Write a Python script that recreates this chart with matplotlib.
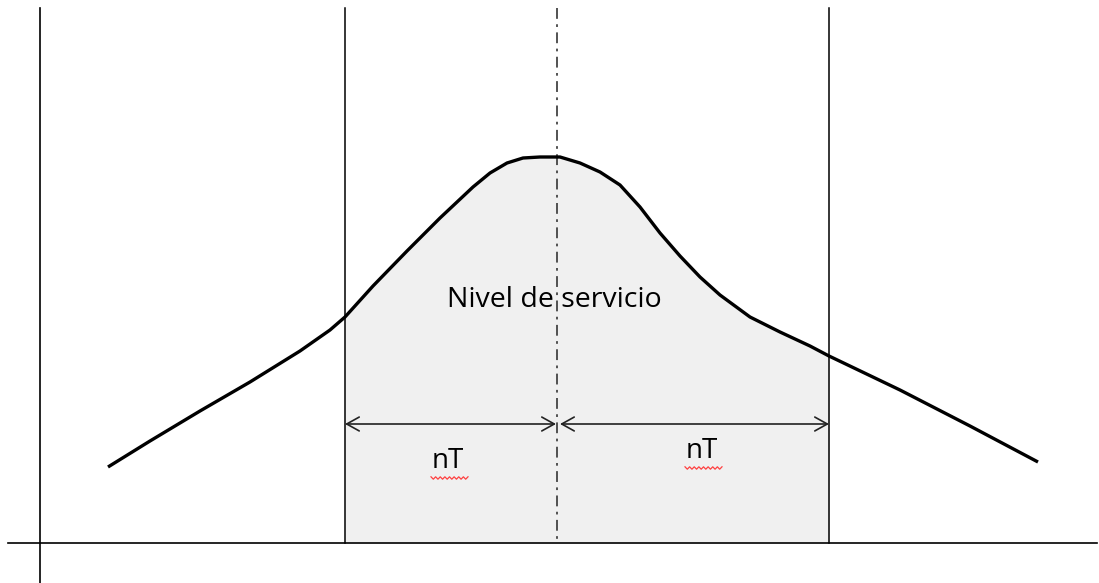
import numpy as np
import matplotlib
matplotlib.use('Agg')
import matplotlib.pyplot as plt

# curve (pixel coords, y grows downward)
curve_x = [108, 150, 200, 250, 300, 330, 345, 373, 407, 440, 473, 490, 507, 523,
           540, 560, 580, 600, 620, 640, 660, 680, 700, 720, 750, 780, 810, 829,
           900, 970, 1038]
curve_y = [467, 441, 411, 382, 351, 330, 317, 286, 251, 218, 187, 173, 163, 158,
           157, 157, 163, 172, 185, 207, 233, 256, 277, 295, 317, 332, 346, 356,
           390, 426, 462]

x_left, x_mid, x_right = 345, 557, 829
base_y = 543
arrow_y = 424
label_main = 'Nivel de servicio'
label_nt = ['nT', 'nT']
nt_pos = [(448, 461), (702, 451)]

fig = plt.figure(figsize=(10.99, 5.83), dpi=100)
ax = fig.add_axes([0, 0, 1, 1])
ax.set_xlim(0, 1099)
ax.set_ylim(583, 0)
ax.axis('off')

cx = np.array(curve_x, dtype=float)
cy = np.array(curve_y, dtype=float)

# zona sombreada (nivel de servicio)
mask = (cx >= x_left) & (cx <= x_right)
ax.fill_between(cx[mask], cy[mask], base_y, color='#f0f0f0', lw=0, zorder=1)

# ejes y lineas verticales
ax.plot([40, 40], [8, 583], color='black', lw=1.2, zorder=3)
ax.plot([8, 1097], [base_y, base_y], color='black', lw=1.2, zorder=3)
ax.plot([x_left, x_left], [8, base_y], color='black', lw=1.1, zorder=3)
ax.plot([x_right, x_right], [8, base_y], color='black', lw=1.1, zorder=3)
ax.plot([x_mid, x_mid], [8, base_y], color='#444444', lw=1.3,
        linestyle=(0, (6, 3, 1.5, 3)), zorder=3)

# la curva
ax.plot(cx, cy, color='black', lw=2.4, solid_capstyle='butt',
        solid_joinstyle='round', zorder=4)

# flechas nT
arrow_kw = dict(arrowstyle='<->,head_length=0.9,head_width=0.5',
                color='#222222', lw=1.2, shrinkA=0, shrinkB=0)
ax.annotate('', xy=(x_left, arrow_y), xytext=(x_mid - 1, arrow_y),
            arrowprops=arrow_kw, zorder=5)
ax.annotate('', xy=(x_mid + 3, arrow_y), xytext=(x_right, arrow_y),
            arrowprops=arrow_kw, zorder=5)

# textos
ax.text(554, 300, label_main, fontsize=20.5, family='Open Sans',
        ha='center', va='center', color='black', zorder=6)
for lab, (tx, ty) in zip(label_nt, nt_pos):
    ax.text(tx, ty, lab, fontsize=20, family='Open Sans',
            ha='center', va='center', color='black', zorder=6)
    # subrayado rojo del corrector
    wx = np.linspace(tx - 17, tx + 20, 17)
    wy = ty + 17 + np.where(np.arange(17) % 2 == 0, -1.2, 1.2)
    ax.plot(wx, wy, color='#ff4040', lw=0.9, zorder=6)

fig.savefig('out.png', dpi=100)
